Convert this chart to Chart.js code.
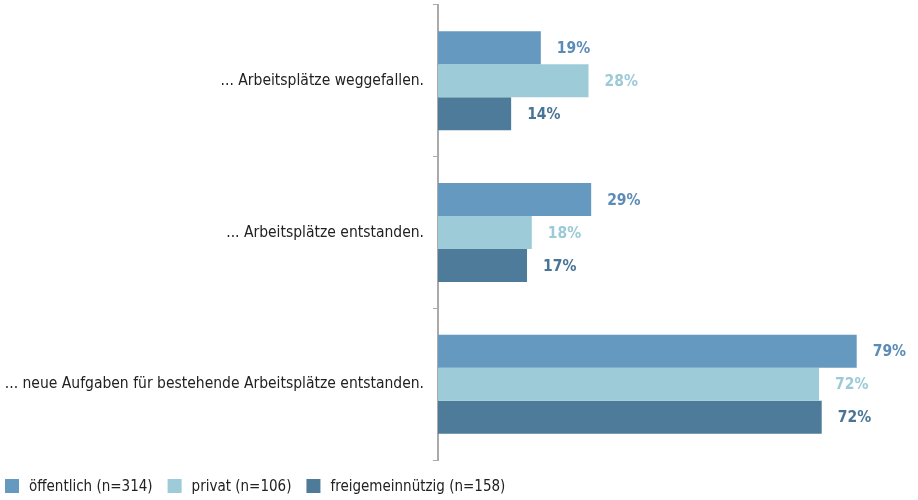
<!DOCTYPE html>
<html>
<head>
<meta charset="utf-8">
<script src="https://cdn.jsdelivr.net/npm/chart.js@4/dist/chart.umd.min.js"></script>
<style>
  html, body { margin: 0; padding: 0; background: #fff; }
  #wrap { width: 918px; height: 500px; }
</style>
</head>
<body>
<div id="wrap"><canvas id="chart"></canvas></div>
<script>
// Kategorien und Werte (in %)
const categories = [
  '... Arbeitsplätze weggefallen.',
  '... Arbeitsplätze entstanden.',
  '... neue Aufgaben für bestehende Arbeitsplätze entstanden.'
];
const seriesNames = ['öffentlich (n=314)', 'privat (n=106)', 'freigemeinnützig (n=158)'];
const oeffentlich = [19.4, 28.9, 79.0];
const privat = [28.4, 17.7, 71.9];
const freigemeinnuetzig = [13.8, 16.8, 72.4];

const barColors = ['#6699c0', '#9dcbd7', '#4e7b9a'];
const labelColors = ['#5b8bb6', '#9ccad6', '#4a7495'];
const FONT = '"Liberation Sans Narrow", "DejaVu Sans Condensed", sans-serif';

// Prozentwerte hinter die Balken schreiben
const valueLabels = {
  id: 'valueLabels',
  afterDatasetsDraw(chart) {
    const ctx = chart.ctx;
    ctx.save();
    ctx.font = 'bold 15.5px ' + FONT;
    ctx.textAlign = 'left';
    ctx.textBaseline = 'middle';
    chart.data.datasets.forEach((ds, i) => {
      chart.getDatasetMeta(i).data.forEach((bar, j) => {
        ctx.fillStyle = labelColors[i];
        ctx.fillText(Math.round(ds.data[j]) + '%', bar.x + 16, bar.y + 1);
      });
    });
    ctx.restore();
  }
};

// Legende unten links selbst zeichnen
const bottomLegend = {
  id: 'bottomLegend',
  afterDraw(chart) {
    const ctx = chart.ctx;
    ctx.save();
    ctx.font = '15px ' + FONT;
    ctx.textBaseline = 'middle';
    let x = 5;
    const y = 486;
    chart.data.datasets.forEach((ds) => {
      ctx.fillStyle = ds.backgroundColor;
      ctx.fillRect(x, y - 7, 14, 14);
      ctx.fillStyle = '#222';
      ctx.fillText(ds.label, x + 24, y + 1);
      x += 24 + ctx.measureText(ds.label).width + 15;
    });
    ctx.restore();
  }
};

const data = {
  labels: categories,
  datasets: [oeffentlich, privat, freigemeinnuetzig].map((vals, i) => ({
    label: seriesNames[i],
    data: vals,
    backgroundColor: barColors[i],
    borderWidth: 0,
    barPercentage: 1,
    categoryPercentage: 0.653
  }))
};

new Chart(document.getElementById('chart'), {
  type: 'bar',
  data,
  plugins: [valueLabels, bottomLegend],
  options: {
    indexAxis: 'y',
    responsive: true,
    maintainAspectRatio: false,
    animation: false,
    layout: { padding: { top: 5, right: 56, left: 0, bottom: 40 } },
    scales: {
      x: { display: false, min: 0, max: 80 },
      y: {
        afterFit(scale) {
          scale.width = 438;
          scale.paddingTop = 0;
          scale.paddingBottom = 0;
        },
        border: { color: '#aaaaaa', width: 2 },
        grid: { drawOnChartArea: false, tickLength: 5, color: '#aaaaaa', lineWidth: 1 },
        ticks: { color: '#222', padding: 9, font: { family: FONT, size: 15.5 } }
      }
    },
    plugins: {
      legend: { display: false },
      tooltip: { enabled: false }
    }
  }
});
</script>
</body>
</html>
